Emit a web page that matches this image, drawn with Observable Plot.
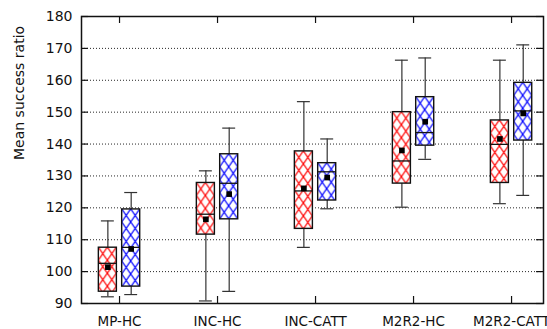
<!DOCTYPE html>
<html>
<head>
<meta charset="utf-8">
<script src="https://cdn.jsdelivr.net/npm/d3@7"></script>
<script src="https://cdn.jsdelivr.net/npm/@observablehq/plot@0.6"></script>
<style>
  html, body { margin: 0; padding: 0; background: #fff; }
  #chart svg { display: block; }
</style>
</head>
<body>
<div id="chart"></div>
<script>
// ---- data ----
const categories = ["MP-HC", "INC-HC", "INC-CATT", "M2R2-HC", "M2R2-CATT"];
const seriesNames = ["red", "blue"];
const yTicks = [90, 100, 110, 120, 130, 140, 150, 160, 170, 180];

const redMin  = [92.1, 90.8, 107.6, 120.2, 121.3];
const redQ1   = [93.7, 111.6, 113.4, 127.6, 127.8];
const redMed  = [102.6, 118.0, 125.3, 134.7, 139.9];
const redMean = [101.4, 116.4, 126.1, 138.0, 141.6];
const redQ3   = [107.5, 127.8, 137.7, 150.0, 147.4];
const redMax  = [115.9, 131.6, 153.3, 166.3, 166.3];

const blueMin  = [92.8, 93.8, 119.7, 135.2, 123.9];
const blueQ1   = [95.3, 116.4, 122.3, 139.5, 141.1];
const blueMed  = [107.6, 127.7, 131.3, 143.6, 150.4];
const blueMean = [107.1, 124.3, 129.5, 147.0, 149.6];
const blueQ3   = [119.5, 136.8, 134.0, 154.7, 159.2];
const blueMax  = [124.8, 145.0, 141.6, 167.0, 171.1];

// ---- layout constants (style) ----
const xDomain = [-0.388, 4.326];
const off = 0.119, hw = 0.092, cap = 0.066, tk = 0.071;
const yDomain = [90, 180];

const stats = {
  red:  {min: redMin, q1: redQ1, med: redMed, mean: redMean, q3: redQ3, max: redMax, color: "#ff0000", dir: -1},
  blue: {min: blueMin, q1: blueQ1, med: blueMed, mean: blueMean, q3: blueQ3, max: blueMax, color: "#0000ff", dir: 1}
};
const rows = [];
seriesNames.forEach(s => {
  const st = stats[s];
  categories.forEach((c, i) => {
    rows.push({series: s, cat: c, i, cx: i + st.dir * off,
      min: st.min[i], q1: st.q1[i], med: st.med[i], mean: st.mean[i], q3: st.q3[i], max: st.max[i], color: st.color});
  });
});
const catIdx = categories.map((c, i) => i);
const grid = yTicks.filter(v => v > yDomain[0] && v < yDomain[1]);

const font = "DejaVu Sans, sans-serif";

const plot = Plot.plot({
  width: 547,
  height: 329,
  marginLeft: 81,
  marginRight: 4,
  marginTop: 16,
  marginBottom: 26,
  style: {fontFamily: font, fontSize: "14px", color: "#111", background: "#fff"},
  x: {type: "linear", domain: xDomain},
  y: {domain: yDomain},
  marks: [
    // grid
    Plot.ruleY(grid, {stroke: "#000", strokeWidth: 1, strokeDasharray: "1,2", strokeOpacity: 0.85}),
    // whiskers
    Plot.ruleX(rows, {x: "cx", y1: "q3", y2: "max", stroke: "#333", strokeWidth: 1.2}),
    Plot.ruleX(rows, {x: "cx", y1: "min", y2: "q1", stroke: "#333", strokeWidth: 1.2}),
    Plot.ruleY(rows, {y: "max", x1: d => d.cx - cap, x2: d => d.cx + cap, stroke: "#333", strokeWidth: 1.2}),
    Plot.ruleY(rows, {y: "min", x1: d => d.cx - cap, x2: d => d.cx + cap, stroke: "#333", strokeWidth: 1.2}),
    // box white fill
    Plot.rect(rows, {x1: d => d.cx - hw, x2: d => d.cx + hw, y1: "q1", y2: "q3", fill: "#fff"}),
    // hatch
    Plot.rect(rows, {x1: d => d.cx - hw, x2: d => d.cx + hw, y1: "q1", y2: "q3", fill: "#ccc", className: "hatch"}),
    // outline
    Plot.rect(rows, {x1: d => d.cx - hw, x2: d => d.cx + hw, y1: "q1", y2: "q3", fill: "none", stroke: "#111", strokeWidth: 1.4}),
    // median
    Plot.ruleY(rows, {y: "med", x1: d => d.cx - hw, x2: d => d.cx + hw, stroke: "#111", strokeWidth: 1.3}),
    // mean
    Plot.dot(rows, {x: "cx", y: "mean", symbol: "square", r: 3.2, fill: "#000", stroke: "none"}),
    // inward ticks
    Plot.ruleY(yTicks, {x1: xDomain[0], x2: xDomain[0] + tk, stroke: "#111", strokeWidth: 1.2}),
    Plot.ruleY(yTicks, {x1: xDomain[1] - tk, x2: xDomain[1], stroke: "#111", strokeWidth: 1.2}),
    Plot.ruleX(catIdx, {y1: yDomain[0], y2: yDomain[0] + 2.2, stroke: "#111", strokeWidth: 1.2}),
    Plot.ruleX(catIdx, {y1: yDomain[1] - 2.2, y2: yDomain[1], stroke: "#111", strokeWidth: 1.2}),
    // axes
    Plot.axisY(yTicks, {tickSize: 0, tickPadding: 9, label: null, fontSize: 14}),
    Plot.axisX(catIdx, {tickSize: 0, tickPadding: 13, label: null, fontSize: 13.5, tickFormat: i => categories[i]}),
    Plot.frame({stroke: "#111", strokeWidth: 1.5}),
    Plot.text(["Mean success ratio"], {frameAnchor: "left", dx: -62, rotate: -90, fontSize: 14, fill: "#111"})
  ]
});

document.getElementById("chart").appendChild(plot);

// build per-box crosshatch patterns aligned to each box
const svg = d3.select(plot);
const defs = svg.insert("defs", ":first-child");
const pw = 9, ph = 13;
svg.selectAll("g.hatch rect").each(function(_, k) {
  const r = d3.select(this);
  const x = +r.attr("x"), y = +r.attr("y");
  const color = rows[k].color;
  const id = "hatch" + k;
  const p = defs.append("pattern").attr("id", id).attr("patternUnits", "userSpaceOnUse")
    .attr("x", x).attr("y", y).attr("width", pw).attr("height", ph);
  p.append("path").attr("d", `M0,0L${pw},${ph}M${pw},0L0,${ph}`)
    .attr("stroke", color).attr("stroke-width", 1.25).attr("fill", "none");
  r.attr("fill", `url(#${id})`);
});
</script>
</body>
</html>
